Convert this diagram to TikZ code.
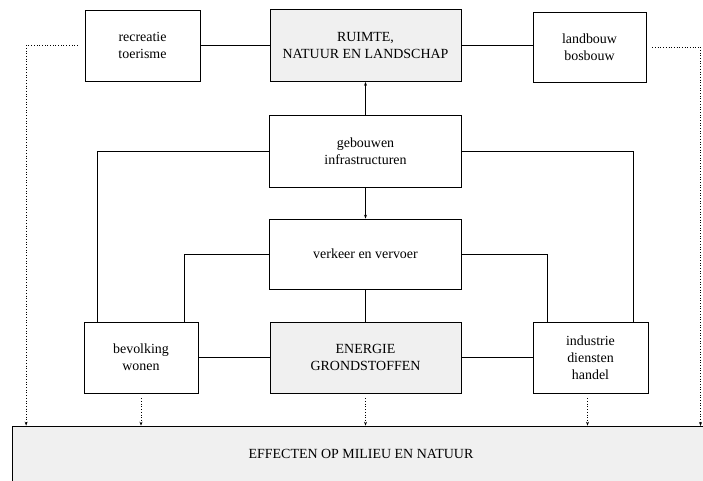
\documentclass[tikz,border=0pt]{standalone}
\usepackage{fontspec}
\setmainfont{Liberation Serif}
\usetikzlibrary{arrows.meta}
\begin{document}
\begin{tikzpicture}[x=1bp,y=-1bp]
\tikzstyle{every node}+=[inner sep=0pt,font=\fontsize{14}{17}\selectfont,align=center]
\tikzstyle{blok}=[draw,line width=0.7bp,minimum height=71bp]
\tikzstyle{grijs}=[blok,fill=black!6]
\tikzstyle{lijn}=[line width=0.7bp]
\tikzstyle{pijl}=[lijn,-{Stealth[length=4bp,width=3bp]}]
\tikzstyle{stip}=[lijn,dotted,-{Stealth[length=4bp,width=3bp]}]
\useasboundingbox (0,0) rectangle (703,481);
\node [blok,minimum width=115bp] (rec) at (142.5,45.5) {recreatie\\toerisme};
\node [grijs,minimum width=191bp,minimum height=72bp] (ruimte) at (365.5,45.5) {RUIMTE,\\NATUUR EN LANDSCHAP};
\node [blok,minimum width=113bp,minimum height=70bp] (land) at (589.5,47) {landbouw\\bosbouw};
\node [blok,minimum width=192bp,minimum height=72bp] (gebouw) at (365.5,151) {gebouwen\\infrastructuren};
\node [blok,minimum width=192bp,minimum height=70bp] (verkeer) at (365.5,254) {verkeer en vervoer};
\node [blok,minimum width=114bp] (bevolk) at (141,357.5) {bevolking\\wonen};
\node [grijs,minimum width=191bp] (energie) at (365.5,357.5) {ENERGIE\\GRONDSTOFFEN};
\node [blok,minimum width=115bp] (industr) at (590.5,357.5) {industrie\\diensten\\handel};
\node [grijs,minimum width=698bp,minimum height=55bp] (effect) at (361,453.5) {EFFECTEN OP MILIEU EN NATUUR};
\coordinate (rgt) at (700.5,426);
\draw [lijn] (rec.east) -- (ruimte.west);
\draw [lijn] (ruimte.east) -- (ruimte.east -| land.west);
\draw [pijl] (gebouw.north) -- (ruimte.south);
\draw [pijl] (gebouw.south) -- (verkeer.north);
\draw [lijn] (verkeer.south) -- (energie.north);
\draw [lijn] (gebouw.west) -| ([xshift=14bp]bevolk.north west);
\draw [lijn] (gebouw.east) -| ([xshift=-15bp]industr.north east);
\draw [lijn] (verkeer.west) -| ([xshift=-14bp]bevolk.north east);
\draw [lijn] (verkeer.east) -| ([xshift=15bp]industr.north west);
\draw [lijn] (bevolk.east) -- (energie.west);
\draw [lijn] (energie.east) -- (industr.west);
\draw [stip] ([xshift=-7bp]rec.west) -| ([xshift=14.5bp]effect.north west);
\draw [stip] ([xshift=6bp]land.east) -| (rgt);
\draw [stip] ([yshift=-5bp]bevolk.south) -- (bevolk.south |- effect.north);
\draw [stip] ([yshift=-5bp]energie.south) -- (energie.south |- effect.north);
\draw [stip] ([xshift=-3bp,yshift=-5bp]industr.south) -- ([xshift=-3bp]industr.south |- effect.north);
\end{tikzpicture}
\end{document}
